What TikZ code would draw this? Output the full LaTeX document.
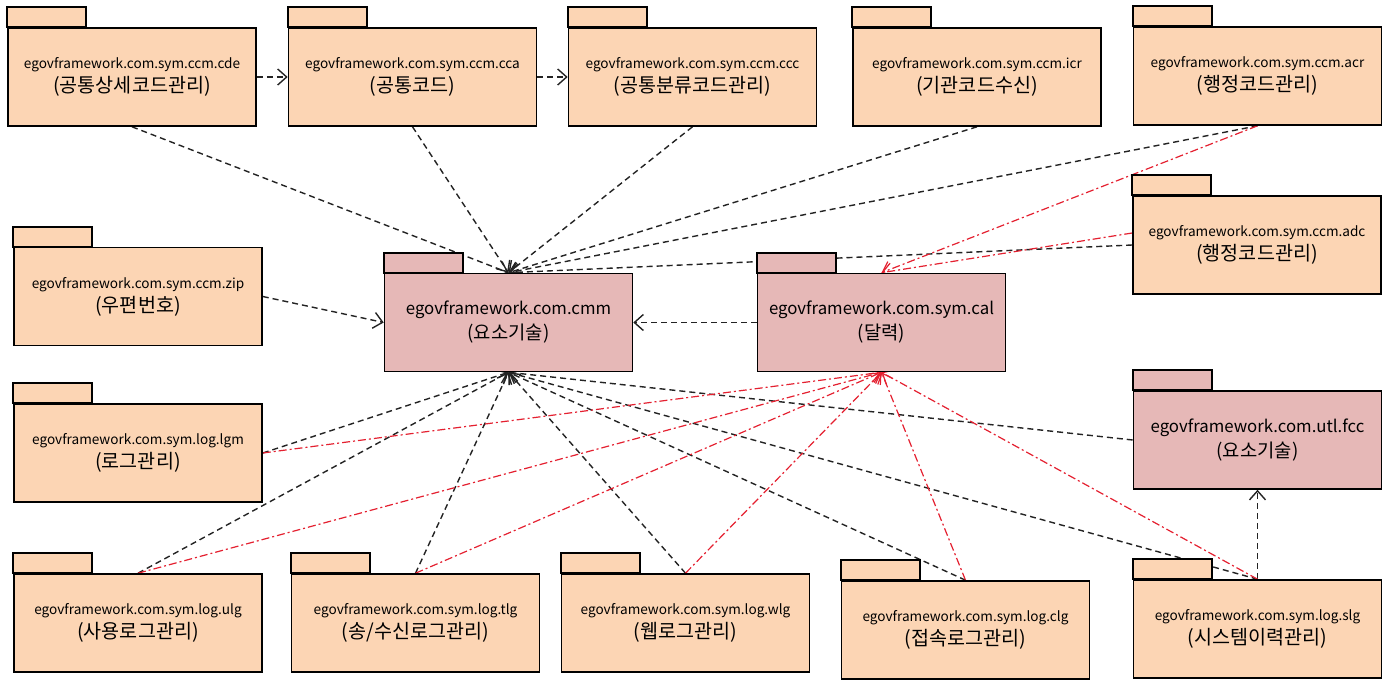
\documentclass[tikz,border=0pt]{standalone}
\usepackage{fontspec}
\setmainfont{Noto Sans CJK KR}
\usetikzlibrary{arrows.meta,backgrounds}

\definecolor{peach}{RGB}{252,213,180}
\definecolor{rose}{RGB}{230,184,183}
\definecolor{depgray}{RGB}{35,35,35}
\definecolor{calred}{RGB}{228,32,48}

\tikzset{
 pkg/.style={draw=black, line width=0.8pt, fill=peach, minimum width=124pt, minimum height=49pt,
   inner sep=0pt, align=center, font=\fontsize{6.8}{12}\selectfont},
 corepkg/.style={pkg, fill=rose, font=\fontsize{8.4}{12.5}\selectfont},
 pkgtab/.style={draw=black, line width=0.8pt, fill=peach},
 coretab/.style={pkgtab, fill=rose},
 dep/.style={draw=depgray, line width=0.7pt, dash pattern=on 3pt off 2pt,
   -{Straight Barb[length=4.5pt,width=8pt]}},
 caldep/.style={draw=calred, line width=0.6pt, dash pattern=on 4pt off 1.5pt on 1pt off 1.5pt,
   -{Straight Barb[length=4.5pt,width=8pt]}}
}
\newcommand{\kr}[1]{{\fontsize{9.8}{12}\selectfont (#1)}}
\newcommand{\krcore}[1]{{\fontsize{9.4}{12.5}\selectfont (#1)}}

\begin{document}
\begin{tikzpicture}[x=0.5pt,y=-0.5pt]
 \useasboundingbox (0,0) rectangle (1396,680);

 % top row
 \node[pkg] (cde) at (132,77) {egovframework.com.sym.ccm.cde\\\kr{공통상세코드관리}};
 \node[pkg] (cca) at (412.5,77) {egovframework.com.sym.ccm.cca\\\kr{공통코드}};
 \node[pkg] (ccc) at (692.5,77) {egovframework.com.sym.ccm.ccc\\\kr{공통분류코드관리}};
 \node[pkg] (icr) at (977,77) {egovframework.com.sym.ccm.icr\\\kr{기관코드수신}};
 \node[pkg] (acr) at (1257.5,76) {egovframework.com.sym.ccm.acr\\\kr{행정코드관리}};
 \node[pkg] (adc) at (1257,245) {egovframework.com.sym.ccm.adc\\\kr{행정코드관리}};

 % middle
 \node[pkg] (zip) at (138,296.5) {egovframework.com.sym.ccm.zip\\\kr{우편번호}};
 \node[corepkg] (cmm) at (508.5,322.5) {egovframework.com.cmm\\\krcore{요소기술}};
 \node[corepkg] (cal) at (881.5,322.5) {egovframework.com.sym.cal\\\krcore{달력}};
 \node[pkg] (lgm) at (138,453) {egovframework.com.sym.log.lgm\\\kr{로그관리}};
 \node[corepkg] (fcc) at (1257.5,440) {egovframework.com.utl.fcc\\\krcore{요소기술}};

 % bottom row
 \node[pkg] (ulg) at (138,623) {egovframework.com.sym.log.ulg\\\kr{사용로그관리}};
 \node[pkg] (tlg) at (415.5,623) {egovframework.com.sym.log.tlg\\\kr{송/수신로그관리}};
 \node[pkg] (wlg) at (685.5,623) {egovframework.com.sym.log.wlg\\\kr{웹로그관리}};
 \node[pkg] (clg) at (965.5,630) {egovframework.com.sym.log.clg\\\kr{접속로그관리}};
 \node[pkg] (slg) at (1257.5,629) {egovframework.com.sym.log.slg\\\kr{시스템이력관리}};

 % tabs
 \draw[pkgtab] (cde.north west) rectangle ++(79,-20);
 \draw[pkgtab] (cca.north west) rectangle ++(79,-20);
 \draw[pkgtab] (ccc.north west) rectangle ++(79,-20);
 \draw[pkgtab] (icr.north west) rectangle ++(79,-20);
 \draw[pkgtab] (acr.north west) rectangle ++(79,-20);
 \draw[pkgtab] (adc.north west) rectangle ++(79,-20);
 \draw[pkgtab] (zip.north west) rectangle ++(79,-20);
 \draw[coretab] (cmm.north west) rectangle ++(79,-20);
 \draw[coretab] (cal.north west) rectangle ++(79,-20);
 \draw[pkgtab] (lgm.north west) rectangle ++(79,-20);
 \draw[coretab] (fcc.north west) rectangle ++(79,-20);
 \draw[pkgtab] (ulg.north west) rectangle ++(79,-20);
 \draw[pkgtab] (tlg.north west) rectangle ++(79,-20);
 \draw[pkgtab] (wlg.north west) rectangle ++(79,-20);
 \draw[pkgtab] (clg.north west) rectangle ++(79,-20);
 \draw[pkgtab] (slg.north west) rectangle ++(79,-20);

 \begin{pgfonlayer}{background}
 % dependencies on cmm
 \draw[dep] (cde.east) -- (cca.west);
 \draw[dep] (cca.east) -- (ccc.west);
 \draw[dep] (cde.south) -- (cmm.north);
 \draw[dep] (cca.south) -- (cmm.north);
 \draw[dep] (ccc.south) -- (cmm.north);
 \draw[dep] (icr.south) -- (cmm.north);
 \draw[dep] (acr.south) -- (cmm.north);
 \draw[dep] (adc.west) -- (cmm.north);
 \draw[dep] (zip.east) -- (cmm.west);
 \draw[dep] (cal.west) -- (cmm.east);
 \draw[dep] (lgm.east) -- (cmm.south);
 \draw[dep] (ulg.north) -- (cmm.south);
 \draw[dep] (tlg.north) -- (cmm.south);
 \draw[dep] (wlg.north) -- (cmm.south);
 \draw[dep] (clg.north) -- (cmm.south);
 \draw[dep] (slg.north) -- (cmm.south);
 \draw[dep] (fcc.west) -- (cmm.south);
 \draw[dep] (slg.north) -- (fcc.south);

 % dependencies on cal
 \draw[caldep] (acr.south) -- (cal.north);
 \draw[caldep] ([yshift=6pt]adc.west) -- (cal.north);
 \draw[caldep] (lgm.east) -- (cal.south);
 \draw[caldep] (ulg.north) -- (cal.south);
 \draw[caldep] (tlg.north) -- (cal.south);
 \draw[caldep] (wlg.north) -- (cal.south);
 \draw[caldep] (clg.north) -- (cal.south);
 \draw[caldep] (slg.north) -- (cal.south);
 \end{pgfonlayer}
\end{tikzpicture}
\end{document}
